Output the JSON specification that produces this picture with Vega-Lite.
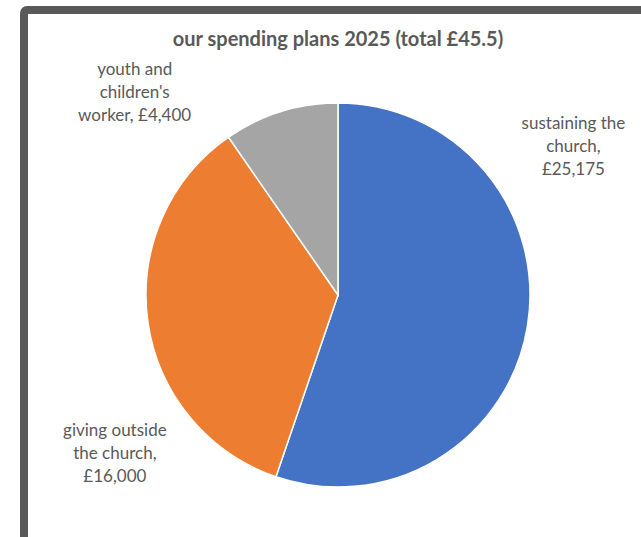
{
  "$schema": "https://vega.github.io/schema/vega-lite/v6.json",
  "width": 628,
  "height": 570,
  "autosize": "none",
  "padding": {"left": 24, "top": 10, "right": 0, "bottom": 0},
  "background": "white",
  "view": {"stroke": "#595959", "strokeWidth": 8, "cornerRadius": 3},
  "config": {
    "view": {"stroke": "#595959", "strokeWidth": 8, "cornerRadius": 3},
    "font": "Lato"
  },
  "title": {
    "text": "our spending plans 2025 (total £45.5)",
    "font": "Lato",
    "fontSize": 20,
    "fontWeight": "bold",
    "color": "#595959",
    "anchor": "middle",
    "frame": "group",
    "baseline": "alphabetic",
    "offset": 0,
    "dy": 56
  },
  "data": {
    "values": [
      {"category": "sustaining the church", "amount": 25175, "order": 1, "label": ["sustaining the", "church,", "£25,175"]},
      {"category": "giving outside the church", "amount": 16000, "order": 2, "label": ["giving outside", "the church,", "£16,000"]},
      {"category": "youth and children's worker", "amount": 4400, "order": 3, "label": ["youth and", "children's", "worker, £4,400"]}
    ]
  },
  "encoding": {
    "theta": {"field": "amount", "type": "quantitative", "stack": true},
    "order": {"field": "order", "type": "quantitative"}
  },
  "layer": [
    {
      "mark": {"type": "arc", "outerRadius": 192, "stroke": "white", "strokeWidth": 1.5},
      "encoding": {
        "color": {
          "field": "category",
          "type": "nominal",
          "scale": {
            "domain": ["sustaining the church", "giving outside the church", "youth and children's worker"],
            "range": ["#4472C4", "#ED7D31", "#A5A5A5"]
          },
          "legend": null
        }
      }
    },
    {
      "mark": {"type": "text", "clip": true, "radius": 192, "dx": 46, "dy": -202, "font": "Lato", "fontSize": 17, "lineHeight": 23, "color": "#595959", "align": "center", "baseline": "middle"},
      "encoding": {"text": {"condition": {"test": "datum.order == 1", "field": "label"}, "value": ""}}
    },
    {
      "mark": {"type": "text", "clip": true, "radius": 192, "dx": -33, "dy": 109, "font": "Lato", "fontSize": 17, "lineHeight": 23, "color": "#595959", "align": "center", "baseline": "middle"},
      "encoding": {"text": {"condition": {"test": "datum.order == 2", "field": "label"}, "value": ""}}
    },
    {
      "mark": {"type": "text", "clip": true, "radius": 192, "dx": -146, "dy": -42, "font": "Lato", "fontSize": 17, "lineHeight": 23, "color": "#595959", "align": "center", "baseline": "middle"},
      "encoding": {"text": {"condition": {"test": "datum.order == 3", "field": "label"}, "value": ""}}
    }
  ]
}
